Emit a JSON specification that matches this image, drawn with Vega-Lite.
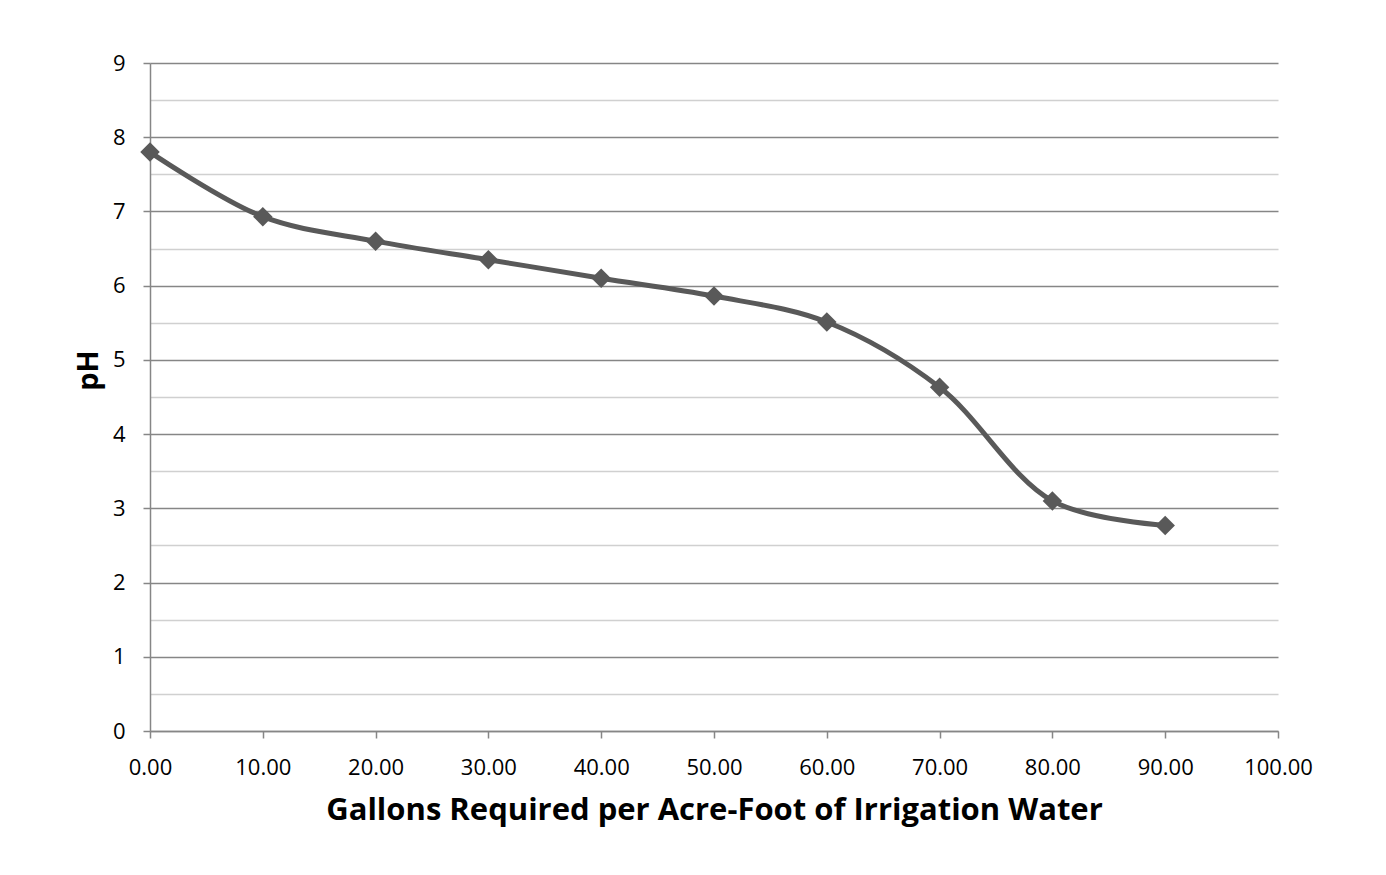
{
  "$schema": "https://vega.github.io/schema/vega-lite/v6.json",
  "width": 1128,
  "height": 668,
  "autosize": "none",
  "padding": {"left": 150, "top": 63, "right": 108, "bottom": 144},
  "background": "white",
  "config": {
    "view": {"stroke": null},
    "font": "Open Sans"
  },
  "data": {
    "values": [
      {"gallons": 0, "pH": 7.80},
      {"gallons": 10, "pH": 6.93},
      {"gallons": 20, "pH": 6.60},
      {"gallons": 30, "pH": 6.35},
      {"gallons": 40, "pH": 6.10},
      {"gallons": 50, "pH": 5.86},
      {"gallons": 60, "pH": 5.51},
      {"gallons": 70, "pH": 4.63},
      {"gallons": 80, "pH": 3.10},
      {"gallons": 90, "pH": 2.77}
    ]
  },
  "encoding": {
    "x": {
      "field": "gallons",
      "type": "quantitative",
      "scale": {"domain": [0, 100], "nice": false, "zero": false},
      "axis": {
        "title": "Gallons Required per Acre-Foot of Irrigation Water",
        "titleFont": "Open Sans",
        "titleFontSize": 31,
        "titleFontWeight": "bold",
        "titleColor": "black",
        "titlePadding": 17,
        "values": [0, 10, 20, 30, 40, 50, 60, 70, 80, 90, 100],
        "format": ".2f",
        "labelFlush": false,
        "grid": false,
        "domainColor": "#868686",
        "domainWidth": 1.5,
        "tickColor": "#868686",
        "tickWidth": 1.5,
        "tickSize": 7,
        "labelFontSize": 22,
        "labelColor": "black",
        "labelPadding": 19
      }
    },
    "y": {
      "field": "pH",
      "type": "quantitative",
      "scale": {"domain": [0, 9], "nice": false},
      "axis": {
        "title": "pH",
        "titleFont": "Open Sans",
        "titleFontSize": 29,
        "titleFontWeight": "bold",
        "titleColor": "black",
        "titleX": -47,
        "titleY": 307,
        "values": [0, 0.5, 1, 1.5, 2, 2.5, 3, 3.5, 4, 4.5, 5, 5.5, 6, 6.5, 7, 7.5, 8, 8.5, 9],
        "labelExpr": "datum.value % 1 === 0 ? format(datum.value, 'd') : ''",
        "grid": true,
        "gridColor": {"condition": {"test": "datum.value % 1 !== 0", "value": "#d0d0d0"}, "value": "#868686"},
        "gridWidth": 1.5,
        "domainColor": "#868686",
        "domainWidth": 1.5,
        "tickColor": "#868686",
        "tickWidth": 1.5,
        "tickOpacity": {"condition": {"test": "datum.value % 1 !== 0", "value": 0}, "value": 1},
        "tickSize": 7,
        "labelFontSize": 22,
        "labelColor": "black",
        "labelPadding": 18
      }
    }
  },
  "layer": [
    {
      "mark": {"type": "line", "interpolate": "catmull-rom", "color": "#595959", "strokeWidth": 5}
    },
    {
      "mark": {"type": "point", "shape": "diamond", "filled": true, "color": "#595959", "opacity": 1, "size": 380}
    }
  ]
}
